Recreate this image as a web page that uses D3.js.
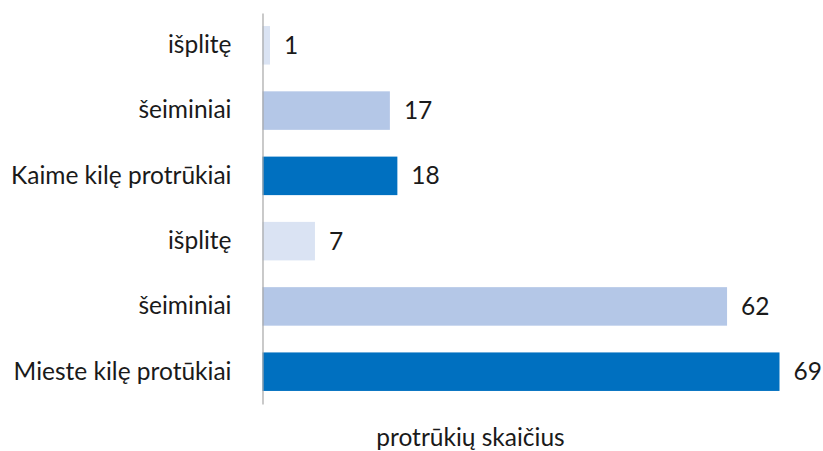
<!DOCTYPE html>
<html>
<head>
<meta charset="utf-8">
<script src="https://cdn.jsdelivr.net/npm/d3@7"></script>
<style>
  body { margin: 0; background: #fff; }
  text { font-family: Lato, "Open Sans", sans-serif; fill: #1a1a1a; }
</style>
</head>
<body>
<div class="container"></div>
<script>
const WIDTH = 823;
const HEIGHT = 451;
const FONT = 24.5;

// top to bottom, as in the picture
var categories = ["išplitę", "šeiminiai", "Kaime kilę protrūkiai", "išplitę", "šeiminiai", "Mieste kilę protūkiai"];
var values = [1, 17, 18, 7, 62, 69];
var kinds = ["spread", "family", "total", "spread", "family", "total"];
var axisTitle = "protrūkių skaičius";

var colors = {total: "#0070C0", family: "#B4C7E7", spread: "#DAE3F3"};

var svg = d3.select(".container")
    .append("svg")
    .attr("width", WIDTH)
    .attr("height", HEIGHT);

var x = d3.scaleLinear().domain([0, 69]).range([262.5, 779.5]);
var y = d3.scaleBand()
    .domain(d3.range(categories.length))
    .range([13, 404])
    .paddingInner(0.41)
    .paddingOuter(0.2);

svg.selectAll("rect.bar")
    .data(values)
    .enter().append("rect")
    .attr("class", "bar")
    .attr("x", x(0))
    .attr("y", function(d, i){ return y(i); })
    .attr("width", function(d){ return x(d) - x(0); })
    .attr("height", y.bandwidth())
    .attr("fill", function(d, i){ return colors[kinds[i]]; });

// value labels
svg.selectAll("text.val")
    .data(values)
    .enter().append("text")
    .attr("class", "val")
    .attr("x", function(d){ return x(d) + 14; })
    .attr("y", function(d, i){ return y(i) + y.bandwidth() / 2; })
    .attr("dy", "0.35em")
    .attr("font-size", FONT)
    .text(function(d){ return d; });

// vertical axis with category labels
var axis = svg.append("g")
    .attr("transform", "translate(" + x(0) + ",0)")
    .call(d3.axisLeft(y).tickSize(0).tickPadding(31).tickFormat(function(i){ return categories[i]; }));
axis.select(".domain").attr("stroke", "#a6a6a6").attr("stroke-width", 1.2);
axis.selectAll("text")
    .attr("font-size", FONT)
    .style("font-family", "Lato, 'Open Sans', sans-serif")
    .attr("fill", "#1a1a1a");

svg.append("text")
    .attr("x", 470.5)
    .attr("y", 446)
    .attr("text-anchor", "middle")
    .attr("font-size", FONT)
    .text(axisTitle);
</script>
</body>
</html>
